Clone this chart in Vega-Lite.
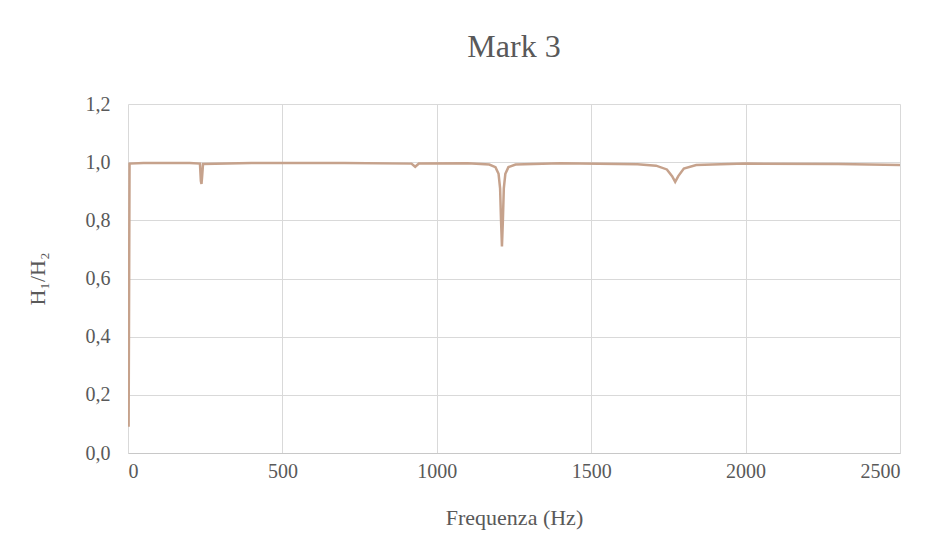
{
  "$schema": "https://vega.github.io/schema/vega-lite/v6.json",
  "width": 772,
  "height": 349,
  "autosize": {"type": "none"},
  "padding": {"left": 128, "top": 104, "right": 43, "bottom": 107},
  "background": "white",
  "config": {
    "view": {"stroke": null},
    "font": "Liberation Serif"
  },
  "title": {
    "text": "Mark 3",
    "font": "Liberation Serif",
    "fontSize": 32,
    "fontWeight": "normal",
    "color": "#595959",
    "anchor": "middle",
    "offset": 30,
    "dx": 0
  },
  "data": {
    "values": [
      {"f": 2, "h": 0.09},
      {"f": 5, "h": 0.995},
      {"f": 50, "h": 0.997},
      {"f": 200, "h": 0.997},
      {"f": 233, "h": 0.995},
      {"f": 236, "h": 0.935},
      {"f": 238, "h": 0.925},
      {"f": 240, "h": 0.95},
      {"f": 243, "h": 0.994},
      {"f": 400, "h": 0.997},
      {"f": 700, "h": 0.997},
      {"f": 918, "h": 0.995},
      {"f": 930, "h": 0.984},
      {"f": 942, "h": 0.995},
      {"f": 1100, "h": 0.996},
      {"f": 1170, "h": 0.992},
      {"f": 1190, "h": 0.983},
      {"f": 1200, "h": 0.96},
      {"f": 1205, "h": 0.91},
      {"f": 1208, "h": 0.8},
      {"f": 1211, "h": 0.71},
      {"f": 1214, "h": 0.8},
      {"f": 1217, "h": 0.91},
      {"f": 1222, "h": 0.96},
      {"f": 1232, "h": 0.983},
      {"f": 1255, "h": 0.992},
      {"f": 1400, "h": 0.996},
      {"f": 1650, "h": 0.993},
      {"f": 1710, "h": 0.988},
      {"f": 1745, "h": 0.975},
      {"f": 1762, "h": 0.952},
      {"f": 1772, "h": 0.932},
      {"f": 1782, "h": 0.952},
      {"f": 1800, "h": 0.978},
      {"f": 1840, "h": 0.99},
      {"f": 2000, "h": 0.995},
      {"f": 2300, "h": 0.994},
      {"f": 2500, "h": 0.99}
    ]
  },
  "mark": {"type": "line", "color": "#c6a28c", "strokeWidth": 2.5, "clip": true},
  "encoding": {
    "x": {
      "field": "f",
      "type": "quantitative",
      "scale": {"domain": [0, 2500], "nice": false},
      "axis": {
        "title": "Frequenza (Hz)",
        "values": [0, 500, 1000, 1500, 2000, 2500],
        "format": "d",
        "labelFont": "Liberation Serif",
        "labelFontSize": 20,
        "labelColor": "#595959",
        "labelPadding": 8,
        "tickSize": 0,
        "domainColor": "#c8c8c8",
        "domainWidth": 1,
        "gridColor": "#d9d9d9",
        "gridWidth": 1,
        "titleFont": "Liberation Serif",
        "titleFontSize": 22,
        "titleFontWeight": "normal",
        "titleColor": "#595959",
        "titlePadding": 26
      }
    },
    "y": {
      "field": "h",
      "type": "quantitative",
      "scale": {"domain": [0, 1.2], "nice": false},
      "axis": {
        "title": "H₁/H₂",
        "values": [0, 0.2, 0.4, 0.6, 0.8, 1.0, 1.2],
        "labelExpr": "replace(format(datum.value, '.1f'), '.', ',')",
        "labelFont": "Liberation Serif",
        "labelFontSize": 20,
        "labelColor": "#595959",
        "labelPadding": 18,
        "tickSize": 0,
        "domain": false,
        "gridColor": "#d9d9d9",
        "gridWidth": 1,
        "titleFont": "Liberation Serif",
        "titleFontSize": 22,
        "titleFontWeight": "normal",
        "titleColor": "#595959",
        "titlePadding": 36
      }
    }
  }
}
